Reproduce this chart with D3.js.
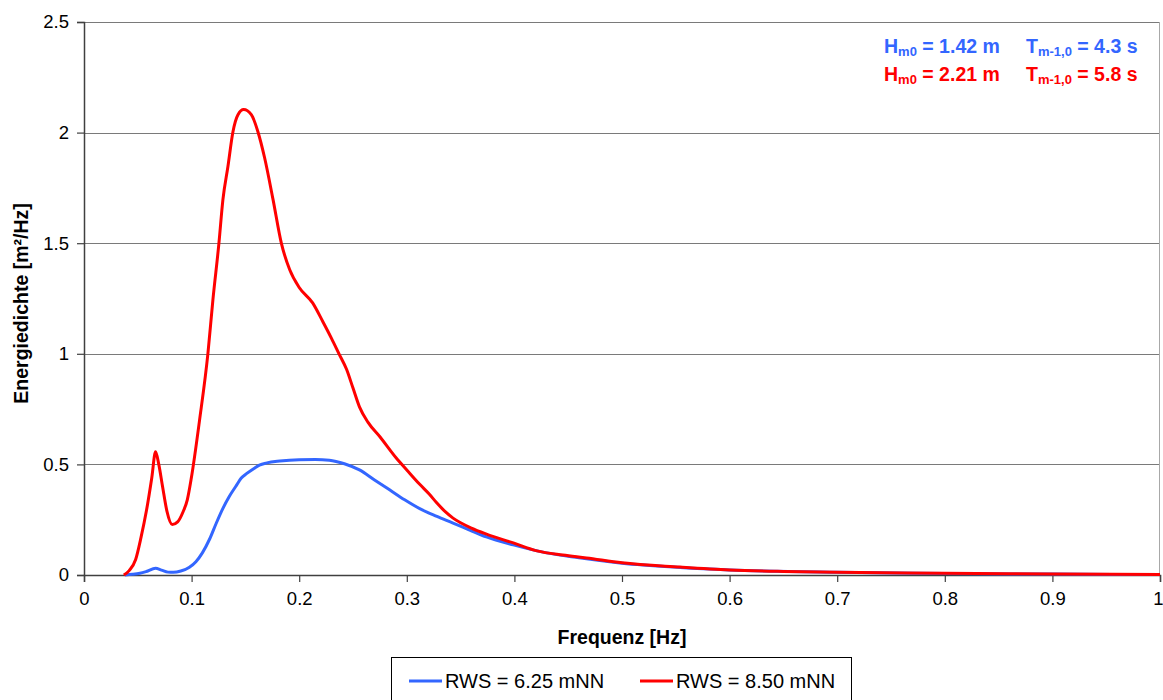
<!DOCTYPE html>
<html>
<head>
<meta charset="utf-8">
<script src="https://cdn.jsdelivr.net/npm/d3@7"></script>
<style>
  html, body { margin: 0; padding: 0; background: #fff; }
  svg { display: block; font-family: Arial, "Liberation Sans", sans-serif; }
</style>
</head>
<body>
<svg id="chart" width="1163" height="700"></svg>
<script>
// ---- data ----
const freqBlue = [0.038,0.045,0.052,0.058,0.0665,0.072,0.078,0.083,0.090,0.098,0.104,0.110,0.117,0.123,0.129,0.135,0.141,0.146,0.151,0.158,0.163,0.170,0.182,0.200,0.215,0.228,0.242,0.256,0.270,0.284,0.298,0.312,0.328,0.343,0.360,0.374,0.399,0.430,0.460,0.500,0.554,0.600,0.700,0.800,0.900,1.000];
const energyBlue = [0,0.003,0.008,0.016,0.030,0.022,0.013,0.012,0.018,0.035,0.060,0.100,0.165,0.235,0.300,0.355,0.400,0.437,0.458,0.482,0.497,0.507,0.515,0.521,0.522,0.519,0.503,0.475,0.430,0.385,0.340,0.300,0.265,0.235,0.200,0.172,0.136,0.100,0.078,0.053,0.034,0.023,0.012,0.007,0.004,0.002];

const freqRed = [0.037,0.042,0.048,0.053,0.058,0.063,0.0665,0.0695,0.073,0.077,0.082,0.087,0.092,0.096,0.0997,0.1074,0.1152,0.1198,0.1254,0.1291,0.1338,0.1384,0.1431,0.1484,0.1555,0.1617,0.1679,0.1757,0.1834,0.1912,0.200,0.2125,0.222,0.230,0.237,0.244,0.250,0.256,0.264,0.275,0.290,0.300,0.312,0.321,0.328,0.336,0.343,0.350,0.360,0.374,0.399,0.421,0.445,0.467,0.500,0.554,0.600,0.650,0.700,0.800,0.900,1.000];
const energyRed = [0,0.02,0.07,0.17,0.29,0.44,0.557,0.50,0.40,0.29,0.228,0.24,0.285,0.34,0.437,0.70,1.003,1.244,1.50,1.697,1.848,2.003,2.081,2.104,2.081,2.003,1.885,1.697,1.50,1.38,1.30,1.23,1.145,1.07,1.0,0.93,0.845,0.76,0.69,0.625,0.53,0.475,0.41,0.365,0.325,0.285,0.257,0.236,0.212,0.185,0.145,0.109,0.09,0.077,0.055,0.036,0.023,0.016,0.012,0.0077,0.0045,0.002];

const seriesNames = ["RWS = 6.25 mNN", "RWS = 8.50 mNN"];
const seriesColors = ["#3366FF", "#FF0000"];
const xTicks = [0,0.1,0.2,0.3,0.4,0.5,0.6,0.7,0.8,0.9,1];
const yTicks = [0,0.5,1,1.5,2,2.5];
const xTitle = "Frequenz [Hz]";
const yTitle = "Energiedichte [m²/Hz]";
const annotations = [
  {H: "1.42", T: "4.3"},
  {H: "2.21", T: "5.8"}
];

// ---- layout ----
const svg = d3.select("#chart");
const pLeft = 84, pRight = 1160, pTop = 22, pBottom = 575;
const x = d3.scaleLinear().domain([0,1]).range([pLeft, pRight]);
const y = d3.scaleLinear().domain([0,2.5]).range([pBottom, pTop]);

// gridlines
svg.append("g").selectAll("line").data(yTicks.filter(d => d > 0)).join("line")
  .attr("x1", pLeft).attr("x2", pRight)
  .attr("y1", d => Math.round(y(d)) + 0.5).attr("y2", d => Math.round(y(d)) + 0.5)
  .attr("stroke", "#7a7a7a").attr("stroke-width", 1);

// right border of plot area
svg.append("line")
  .attr("x1", pRight - 0.5).attr("x2", pRight - 0.5)
  .attr("y1", pTop).attr("y2", pBottom)
  .attr("stroke", "#a8a8a8").attr("stroke-width", 1);

// axes
const yAxis = d3.axisLeft(y).tickValues(yTicks).tickSize(7).tickPadding(8)
  .tickFormat(d => d3.format("")(d));
const xAxis = d3.axisBottom(x).tickValues(xTicks).tickSize(7).tickPadding(10)
  .tickFormat(d => d3.format("")(d));

const gy = svg.append("g").attr("transform", `translate(${pLeft},0)`).call(yAxis);
const gx = svg.append("g").attr("transform", `translate(0,${pBottom})`).call(xAxis);
[gx, gy].forEach(g => {
  g.select(".domain").attr("stroke", "#404040").attr("stroke-width", 1.5);
  g.selectAll(".tick line").attr("stroke", "#404040").attr("stroke-width", 1.2);
  g.selectAll(".tick text").attr("fill", "#000").style("font-size", "18.5px")
    .style("font-family", "Arial, 'Liberation Sans', sans-serif");
});
// keep the last x label inside the picture
gx.selectAll(".tick text").filter(d => d === 1).attr("dx", -2);

// lines
const line = d3.line().x(d => x(d[0])).y(d => y(d[1])).curve(d3.curveMonotoneX);
const seriesData = [
  d3.zip(freqBlue, energyBlue),
  d3.zip(freqRed, energyRed)
];
seriesData.forEach((s, i) => {
  svg.append("path").datum(s)
    .attr("d", line)
    .attr("fill", "none")
    .attr("stroke", seriesColors[i])
    .attr("stroke-width", 3)
    .attr("stroke-linejoin", "round");
});

// axis titles
svg.append("text")
  .attr("x", (pLeft + pRight) / 2).attr("y", 644)
  .attr("text-anchor", "middle")
  .style("font-size", "19.5px").style("font-weight", "bold")
  .text(xTitle);
svg.append("text")
  .attr("transform", `translate(28,${(pTop + pBottom) / 2 + 5}) rotate(-90)`)
  .attr("text-anchor", "middle")
  .style("font-size", "19.5px").style("font-weight", "bold")
  .text(yTitle);

// annotations
annotations.forEach((a, i) => {
  const baseY = [53, 81][i];
  const g = svg.append("g").style("font-weight", "bold").attr("fill", seriesColors[i]);
  const t1 = g.append("text").attr("x", 884).attr("y", baseY).style("font-size", "19.5px");
  t1.append("tspan").text("H");
  t1.append("tspan").attr("dy", 3).style("font-size", "13px").text("m0");
  t1.append("tspan").attr("dy", -3).text(` = ${a.H} m`);
  const t2 = g.append("text").attr("x", 1026).attr("y", baseY).style("font-size", "19.5px");
  t2.append("tspan").text("T");
  t2.append("tspan").attr("dy", 3).style("font-size", "13px").text("m-1,0");
  t2.append("tspan").attr("dy", -3).text(` = ${a.T} s`);
});

// legend
const leg = svg.append("g");
leg.append("rect")
  .attr("x", 391.5).attr("y", 657.5).attr("width", 460).attr("height", 60)
  .attr("fill", "#fff").attr("stroke", "#000").attr("stroke-width", 1);
const legX = [409, 640];
seriesNames.forEach((n, i) => {
  leg.append("line")
    .attr("x1", legX[i]).attr("x2", legX[i] + 33)
    .attr("y1", 681).attr("y2", 681)
    .attr("stroke", seriesColors[i]).attr("stroke-width", 3);
  leg.append("text")
    .attr("x", legX[i] + 36).attr("y", 688)
    .style("font-size", "20px")
    .text(n);
});
</script>
</body>
</html>
